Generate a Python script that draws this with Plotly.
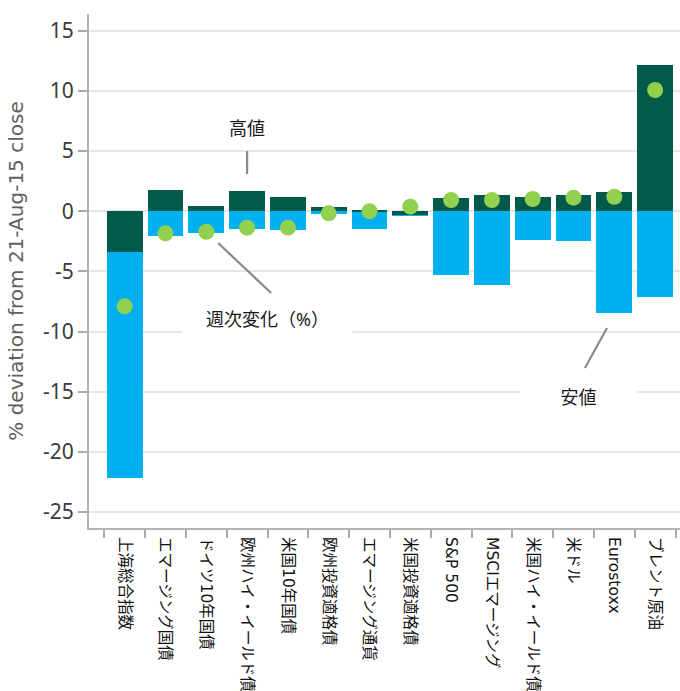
import plotly.graph_objects as go

# Weekly market moves: high / low deviation and weekly change (%)
categories = [
    "上海総合指数", "エマージング国債", "ドイツ10年国債", "欧州ハイ・イールド債",
    "米国10年国債", "欧州投資適格債", "エマージング通貨", "米国投資適格債",
    "S&P 500", "MSCIエマージング", "米国ハイ・イールド債", "米ドル",
    "Eurostoxx", "ブレント原油",
]
high_vals = [-3.4, 1.75, 0.44, 1.66, 1.21, 0.35, 0.05, -0.3, 1.1, 1.38, 1.19, 1.35, 1.6, 12.14]
low_vals = [-22.2, -2.08, -1.83, -1.45, -1.55, -0.2, -1.5, -0.4, -5.3, -6.1, -2.36, -2.5, -8.43, -7.1]
weekly_change = [-7.9, -1.83, -1.7, -1.36, -1.36, -0.17, 0.0, 0.38, 0.94, 0.94, 1.02, 1.13, 1.21, 10.08]

y_tick_vals = [15, 10, 5, 0, -5, -10, -15, -20, -25]
y_tick_text = ["15", "10", "5", "0", "-5", "-10", "-15", "-20", "-25"]

DARK = "#03594a"
BLUE = "#00b0f0"
DOT = "#92d050"
LINE_GRAY = "#8a8a8a"
FONT = "Noto Sans, Noto Sans CJK JP, sans-serif"
WIDE_FONT = "DejaVu Sans, Noto Sans CJK JP, sans-serif"

fig = go.Figure()
fig.add_trace(go.Bar(x=categories, y=low_vals, marker=dict(color=BLUE, line=dict(width=0)),
                     width=0.88, name="安値", hoverinfo="y"))
fig.add_trace(go.Bar(x=categories, y=high_vals, marker=dict(color=DARK, line=dict(width=0)),
                     width=0.88, name="高値", hoverinfo="y"))
fig.add_trace(go.Scatter(x=categories, y=weekly_change, mode="markers",
                         marker=dict(color=DOT, size=16, line=dict(width=0)),
                         name="週次変化（%）", hoverinfo="y"))

# callout leader lines (category index on x, value on y)
leaders = [
    (3.0, 3.1, 3.0, 5.0),
    (2.29, -2.64, 3.59, -6.8),
    (11.82, -9.7, 11.28, -13.03),
]
for x0, y0, x1, y1 in leaders:
    fig.add_shape(type="line", xref="x", yref="y", x0=x0, y0=y0, x1=x1, y1=y1,
                  line=dict(color=LINE_GRAY, width=2.2), layer="above")

callouts = [
    ("高値", 3.0, 6.95, 60),
    ("週次変化（%）", 3.51, -8.95, 167),
    ("安値", 11.11, -15.41, 115),
]
for text, x, y, w in callouts:
    fig.add_annotation(text=text, x=x, y=y, xref="x", yref="y", showarrow=False,
                       font=dict(family=FONT, size=18, color="#1a1a1a"),
                       bgcolor="white", width=w, height=28, align="center")

fig.update_layout(
    width=680, height=691,
    margin=dict(l=89, r=0, t=14, b=163),
    paper_bgcolor="white", plot_bgcolor="white",
    barmode="overlay", bargap=0, showlegend=False,
    font=dict(family=FONT),
)
fig.update_xaxes(
    type="category", range=[-0.875, 13.61], tickangle=90,
    tickson="boundaries", ticks="outside", ticklen=8, tickwidth=1.5, tickcolor="#aaaaaa",
    showline=True, linecolor="#b3b3b3", linewidth=2, showgrid=False,
    tickfont=dict(family=WIDE_FONT, size=15.5, color="#111111"), automargin=False,
    ticklabelstandoff=4,
)
fig.update_yaxes(
    range=[-26.33, 16.4], tickvals=y_tick_vals, ticktext=y_tick_text,
    ticks="outside", ticklen=9, tickwidth=1.5, tickcolor="#aaaaaa",
    showline=True, linecolor="#b3b3b3", linewidth=2,
    showgrid=True, gridcolor="#e6e6e6", gridwidth=2, zeroline=False,
    tickfont=dict(family=FONT, size=21, color="#3a3a3a"),
    title=dict(text="% deviation from 21-Aug-15 close", standoff=14,
               font=dict(family=WIDE_FONT, size=20, color="#5f5f5f")),
    automargin=False,
)

fig.write_html("out.html")
